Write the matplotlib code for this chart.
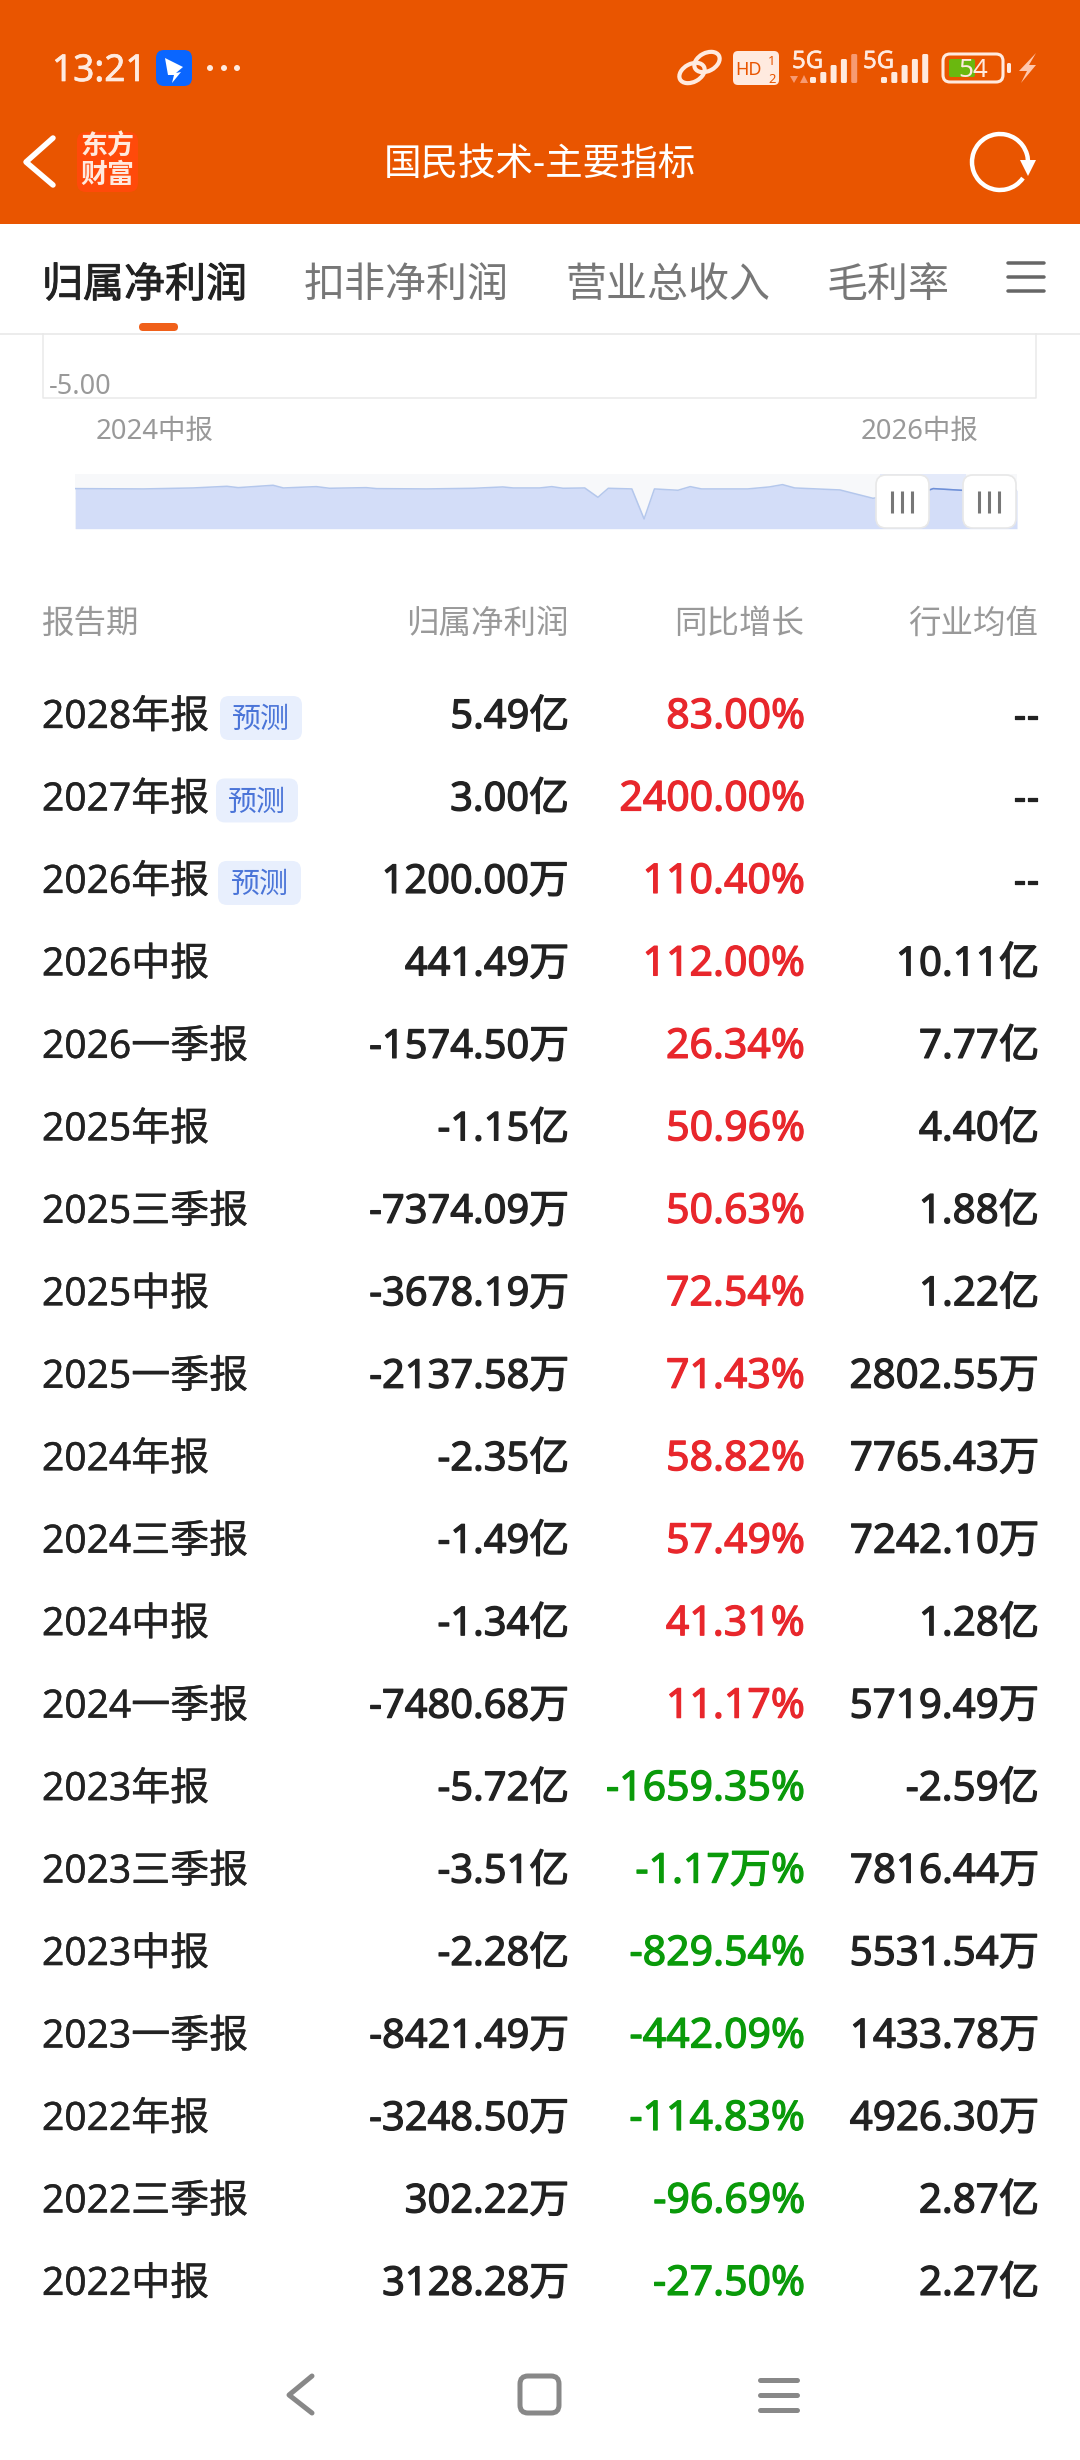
import matplotlib
matplotlib.use('Agg')
import matplotlib.pyplot as plt
import matplotlib.patheffects as pe
from matplotlib.patches import Rectangle, FancyBboxPatch, Arc, Polygon, Ellipse, Circle

FONT = ['Noto Sans', 'Noto Sans CJK SC', 'DejaVu Sans']
plt.rcParams['font.family'] = FONT

# table
periods = ['2028年报', '2027年报', '2026年报', '2026中报', '2026一季报', '2025年报', '2025三季报',
           '2025中报', '2025一季报', '2024年报', '2024三季报', '2024中报', '2024一季报', '2023年报',
           '2023三季报', '2023中报', '2023一季报', '2022年报', '2022三季报', '2022中报']
profits = ['5.49亿', '3.00亿', '1200.00万', '441.49万', '-1574.50万', '-1.15亿', '-7374.09万',
           '-3678.19万', '-2137.58万', '-2.35亿', '-1.49亿', '-1.34亿', '-7480.68万', '-5.72亿',
           '-3.51亿', '-2.28亿', '-8421.49万', '-3248.50万', '302.22万', '3128.28万']
growth = ['83.00%', '2400.00%', '110.40%', '112.00%', '26.34%', '50.96%', '50.63%', '72.54%',
          '71.43%', '58.82%', '57.49%', '41.31%', '11.17%', '-1659.35%', '-1.17万%', '-829.54%',
          '-442.09%', '-114.83%', '-96.69%', '-27.50%']
industry = ['--', '--', '--', '10.11亿', '7.77亿', '4.40亿', '1.88亿', '1.22亿', '2802.55万',
            '7765.43万', '7242.10万', '1.28亿', '5719.49万', '-2.59亿', '7816.44万', '5531.54万',
            '1433.78万', '4926.30万', '2.87亿', '2.27亿']
columns = ['报告期', '归属净利润', '同比增长', '行业均值']
tabs = ['归属净利润', '扣非净利润', '营业总收入', '毛利率']

# overview strip (position along strip, 亿)
overview_x = [0, 7.2, 12.5, 16.1, 17.3, 21.0, 22.1, 25.6, 27.0, 30.9, 32.0, 37.3, 42.3, 45.4, 46.5,
              49.3, 50.6, 51.8, 54.1, 55.5, 56.6, 59.1, 60.4, 61.5, 64.0, 65.3, 66.5, 71.4, 73.7,
              75.1, 76.4, 81.2, 84.7, 90.7, 91.1, 94.1, 100]
overview_y = [-0.06, -0.12, 0.06, 0.37, 0.12, 0.56, 0.06, 0.31, 0.0, 0.12, -0.06, -0.12, 0.0, 0.25,
              0.06, 0.06, 0.31, 0.0, 0.06, -1.68, 0.0, -0.12, -5.71, -0.12, -0.37, 0.31, -0.12,
              -0.12, 0.25, 0.68, 0.06, -0.31, -1.86, -0.31, -0.06, -0.37, -0.37]

ORANGE = '#e95500'
INK = '#222222'
GREY = '#999999'
RED = '#e8272c'
GREEN = '#0a9a0a'
CREAM = '#ffeadf'
PX = 0.72  # px -> pt at dpi 100

fig = plt.figure(figsize=(10.8, 24.6), dpi=100, facecolor='white')
ax = fig.add_axes([0, 0, 1, 1])
ax.set_xlim(0, 1080)
ax.set_ylim(2460, 0)
ax.axis('off')


def txt(x, y, s, px, color=INK, ha='left', weight='normal', va='baseline', zorder=5, thick=0):
    t = ax.text(x, y, s, fontsize=px * PX, color=color, ha=ha, va=va, weight=weight,
                family=FONT, zorder=zorder)
    if thick:
        # no medium cut in the fonts, so fatten the regular one a little
        t.set_path_effects([pe.withStroke(linewidth=thick, foreground=color)])
    return t


def rbox(x0, y0, x1, y1, r, fc='none', ec='none', lw=0, zorder=2):
    p = FancyBboxPatch((x0 + r, y0 + r), x1 - x0 - 2 * r, y1 - y0 - 2 * r,
                       boxstyle=f'round,pad={r},rounding_size={r}', fc=fc, ec=ec, lw=lw, zorder=zorder)
    ax.add_patch(p)
    return p


def line(xs, ys, color, px, zorder=3, cap='round'):
    ax.plot(xs, ys, color=color, lw=px * PX, solid_capstyle=cap, solid_joinstyle='round', zorder=zorder)


# header
ax.add_patch(Rectangle((0, 0), 1080, 224, fc=ORANGE, ec='none', zorder=1))
txt(52, 81, '13:21', 37, CREAM, thick=0.5)
rbox(156, 50, 192, 86, 8, fc='#0a66ff')
ax.add_patch(Polygon([(165, 58), (183, 67), (176, 73), (181, 72), (172, 83), (174, 75), (168, 75)],
                     fc='white', ec='none', zorder=3))
for dx in (210, 224, 237):
    ax.add_patch(Circle((dx, 68), 3, fc=CREAM, ec='none', zorder=3))

# status icons
ax.add_patch(Ellipse((692, 73), 27, 18, angle=-28, fc='none', ec=CREAM, lw=3, zorder=3))
ax.add_patch(Ellipse((707, 62), 27, 18, angle=-28, fc='none', ec=CREAM, lw=3, zorder=3))
rbox(733, 51, 779, 85, 5, fc=CREAM, zorder=3)
txt(735, 75, 'HD', 18, ORANGE, weight='bold')
txt(772, 65, '1', 13, ORANGE, ha='center', weight='bold')
txt(772, 83, '2', 13, ORANGE, ha='center', weight='bold')
txt(792, 68, '5G', 24, CREAM, thick=0.4)
txt(863, 68, '5G', 24, CREAM, thick=0.4)
bar_tops = [77, 72, 65, 59, 54]
for start, step in ((810, 10.3), (881, 10.3)):
    for k, top in enumerate(bar_tops):
        fc = '#f79a72' if (start == 810 and k == 4) else CREAM
        rbox(start + k * step, top, start + k * step + 6, 83, 1.5, fc=fc, zorder=3)
ax.add_patch(Polygon([(790, 76), (798, 76), (794, 83)], fc='#f79a72', ec='none', zorder=3))
ax.add_patch(Polygon([(800, 83), (808, 83), (804, 75)], fc='#f79a72', ec='none', zorder=3))
rbox(943, 54, 1003, 82, 7, fc='none', ec=CREAM, lw=2.2, zorder=3)
rbox(949, 59, 975, 77, 2, fc='#6ab80f', zorder=3)
txt(973, 77, '54', 26, CREAM, ha='center', zorder=4)
rbox(1007, 63, 1011, 73, 1.5, fc=CREAM, zorder=3)
ax.add_patch(Polygon([(1036, 53), (1019, 71), (1027, 71), (1021, 83), (1036, 65), (1029, 65)],
                     fc='#ffc7ad', ec='none', zorder=3))

# nav row
line([53, 26, 53], [138, 162, 185], 'white', 5.5)
rbox(77, 132, 138, 192, 9, fc='#ff4a0a')
txt(107, 148, '东方', 27, CREAM, ha='center', va='center', weight='bold')
txt(107, 176, '财富', 27, CREAM, ha='center', va='center', weight='bold')
txt(540, 175, '国民技术-主要指标', 37.5, 'white', ha='center')
ax.add_patch(Arc((1000, 162), 56, 56, theta1=35, theta2=365, color='white', lw=3.2, zorder=3))
ax.add_patch(Polygon([(1020, 160), (1036, 160), (1028, 176)], fc='white', ec='none', zorder=3))

# tabs
tab_x = [42, 304, 565, 827]
for i, (label, x) in enumerate(zip(tabs, tab_x)):
    txt(x, 297, label, 41, INK if i == 0 else '#777777', thick=0.7 if i == 0 else 0)
rbox(139, 323, 178, 331, 4, fc='#f0601a')
for y in (263, 277, 291):
    line([1008, 1044], [y, y], '#666666', 3.5)
line([0, 1080], [333.5, 333.5], '#e6e6e6', 1.5, zorder=1)

# chart panel, mostly scrolled away
line([42.5, 42.5, 1036, 1036], [333, 398, 398, 333], '#e9e9e9', 1.5, zorder=1, cap='butt')
txt(49, 394, '-5.00', 27, GREY)
txt(96, 439, '2024中报', 27.5, GREY)
txt(861, 439, '2026中报', 27.5, GREY)

# overview strip
ov = fig.add_axes([75.3 / 1080, 1 - 528.7 / 2460, (1017 - 75.3) / 1080, (528.7 - 474.3) / 2460])
ov.set_xlim(0, 100)
ov.set_ylim(-7.52, 2.6)
ov.axis('off')
ov.add_patch(Rectangle((0, -7.52), 100, 10.12, fc='#f7f8fa', ec='none', zorder=0))
ov.add_patch(Rectangle((85.4, -7.52), 9.2, 10.12, fc='#e4eafa', ec='none', zorder=0))
ov.fill_between(overview_x, overview_y, -7.52, color='#d3ddf8', lw=0, zorder=1)
ov.plot(overview_x, overview_y, color='#b4c7ec', lw=1.1, zorder=2)
sel = [i for i, v in enumerate(overview_x) if 85.4 <= v <= 94.6]
ov.plot([overview_x[i] for i in sel], [overview_y[i] for i in sel], color='#6f90d8', lw=1.1, zorder=3)
ov.set_zorder(2)

# handles go above the strip
top_ax = fig.add_axes([0, 0, 1, 1], facecolor='none')
top_ax.set_xlim(0, 1080)
top_ax.set_ylim(2460, 0)
top_ax.axis('off')
top_ax.set_zorder(3)
for x0 in (876, 963):
    p = FancyBboxPatch((x0 + 10, 475 + 10), 33, 33, boxstyle='round,pad=10,rounding_size=10',
                       fc='white', ec='#e8e8e8', lw=1.2)
    top_ax.add_patch(p)
    for dx in (16, 26, 36):
        top_ax.plot([x0 + dx, x0 + dx], [491, 513], color='#777777', lw=2.2, solid_capstyle='butt')

# table head
heads_x = [42, 569, 804, 1038]
for i, (label, x) in enumerate(zip(columns, heads_x)):
    txt(x, 633, label, 32.5, GREY, ha='left' if i == 0 else 'right')

# rows
badge_box = {0: (220, 302), 1: (216, 298), 2: (218, 301)}
first_row, row_step = 713, 82.47
for i in range(len(periods)):
    cy = first_row + i * row_step
    base = cy + 15
    txt(42, base, periods[i], 39, thick=0.25)
    txt(569, base, profits[i], 39.8, ha='right', thick=0.9)
    color = GREEN if growth[i].startswith('-') else RED
    txt(805, base, growth[i], 41, color, ha='right', thick=0.9)
    txt(1039, base, industry[i], 40.3, ha='right', thick=0.9)
    if i in badge_box:
        x0, x1 = badge_box[i]
        rbox(x0, cy - 17, x1, cy + 27, 9, fc='#e8effd')
        txt((x0 + x1) / 2, cy + 15, '预测', 29, '#4a74d8', ha='center')

# bottom nav
line([312, 289, 312], [2376, 2395, 2413], '#888888', 5)
rbox(520, 2376, 559, 2413, 8, fc='none', ec='#888888', lw=3.6)
for y in (2380, 2395, 2410):
    line([760, 797], [y, y], '#888888', 5)

fig.savefig('out.png', dpi=100)
